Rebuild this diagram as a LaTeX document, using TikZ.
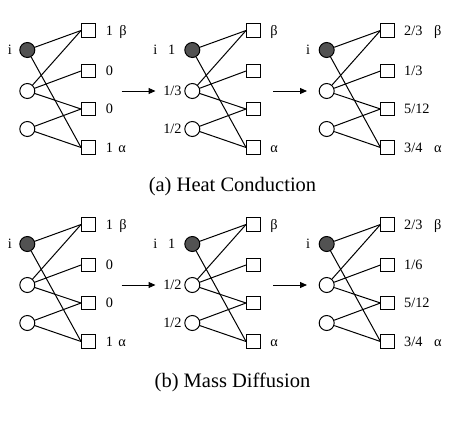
\documentclass[tikz,border=0pt]{standalone}
\usepackage{fontspec}
\setmainfont{Liberation Serif}
\usetikzlibrary{arrows.meta}
\tikzset{
  sq/.style={draw, line width=1pt, minimum size=13.5pt, inner sep=0pt, fill=white},
  hollow/.style={circle, draw, line width=1pt, minimum size=15pt, inner sep=0pt, fill=white},
  full/.style={hollow, fill=black!68},
  link/.style={line width=1pt},
  lab/.style={font=\fontsize{14.3}{16}\selectfont, inner sep=0pt, text height=9.6pt, text depth=0pt},
  captext/.style={font=\fontsize{20.5}{24}\selectfont, inner sep=0pt},
  flow/.style={line width=1pt, -{Triangle[length=7pt,width=6pt]}},
}
% #1 prefix, #2 circle x, #3 top square y
\newcommand\graphpanel[3]{%
  \node[full]   (#1a) at (#2,#3+19.5) {};
  \node[hollow] (#1b) at (#2,#3+60.5) {};
  \node[hollow] (#1c) at (#2,#3+98.5) {};
  \node[sq] (#1s1) at (#2+61,#3) {};
  \node[sq] (#1s2) at (#2+61,#3+40.5) {};
  \node[sq] (#1s3) at (#2+61,#3+78.5) {};
  \node[sq] (#1s4) at (#2+61,#3+117) {};
  \draw[link] (#1a) -- (#1s1.west);
  \draw[link] (#1a) -- (#1s4.west);
  \draw[link] (#1b) -- (#1s1.west);
  \draw[link] (#1b) -- (#1s2.west);
  \draw[link] (#1b) -- (#1s3.west);
  \draw[link] (#1c) -- (#1s3.west);
  \draw[link] (#1c) -- (#1s4.west);
}
\begin{document}
\begin{tikzpicture}[x=1pt, y=-1pt]
\useasboundingbox (0,0) rectangle (463,423);

% ---------- (a) Heat Conduction ----------
\graphpanel{pa}{27.3}{30.5}
\node[lab] (pai) at ([xshift=-17.5pt]paa.center) {i};
\node[lab, anchor=west] (pal1) at ([xshift=10pt]pas1.east) {1};
\node[lab, anchor=west] (palb) at ([xshift=23.5pt]pas1.east) {β};
\node[lab, anchor=west] (pal2) at ([xshift=10pt]pas2.east) {0};
\node[lab, anchor=west] (pal3) at ([xshift=10pt]pas3.east) {0};
\node[lab, anchor=west] (pal4) at ([xshift=10pt]pas4.east) {1};
\node[lab, anchor=west] (pala) at ([xshift=22.5pt]pas4.east) {α};

\graphpanel{pb}{192.3}{30.5}
\node[lab] (pbi) at ([xshift=-37pt]pba.center) {i};
\node[lab] (pbv1) at ([xshift=-20.5pt]pba.center) {1};
\node[lab, anchor=east] (pbv2) at ([xshift=-2.5pt]pbb.west) {1/3};
\node[lab, anchor=east] (pbv3) at ([xshift=-2.5pt]pbc.west) {1/2};
\node[lab, anchor=west] (pblb) at ([xshift=9.5pt]pbs1.east) {β};
\node[lab, anchor=west] (pbla) at ([xshift=9.5pt]pbs4.east) {α};

\graphpanel{pc}{326.7}{30.5}
\node[lab] (pci) at ([xshift=-18.5pt]pca.center) {i};
\node[lab, anchor=west] (pcl1) at ([xshift=9pt]pcs1.east) {2/3};
\node[lab, anchor=west] (pclb) at ([xshift=39pt]pcs1.east) {β};
\node[lab, anchor=west] (pcl2) at ([xshift=9pt]pcs2.east) {1/3};
\node[lab, anchor=west] (pcl3) at ([xshift=9pt]pcs3.east) {5/12};
\node[lab, anchor=west] (pcl4) at ([xshift=9pt]pcs4.east) {3/4};
\node[lab, anchor=west] (pcla) at ([xshift=39pt]pcs4.east) {α};

\coordinate (aa1) at (121.7,91);
\coordinate (aa2) at (155.5,91);
\coordinate (ab1) at (273.3,91);
\coordinate (ab2) at (307,91);
\draw[flow] (aa1) -- (aa2);
\draw[flow] (ab1) -- (ab2);

\node[captext, anchor=base] (capa) at (232.5,191) {(a) Heat Conduction};

% ---------- (b) Mass Diffusion ----------
\graphpanel{qa}{27.3}{224.5}
\node[lab] (qai) at ([xshift=-17.5pt]qaa.center) {i};
\node[lab, anchor=west] (qal1) at ([xshift=10pt]qas1.east) {1};
\node[lab, anchor=west] (qalb) at ([xshift=23.5pt]qas1.east) {β};
\node[lab, anchor=west] (qal2) at ([xshift=10pt]qas2.east) {0};
\node[lab, anchor=west] (qal3) at ([xshift=10pt]qas3.east) {0};
\node[lab, anchor=west] (qal4) at ([xshift=10pt]qas4.east) {1};
\node[lab, anchor=west] (qala) at ([xshift=22.5pt]qas4.east) {α};

\graphpanel{qb}{192.3}{224.5}
\node[lab] (qbi) at ([xshift=-37pt]qba.center) {i};
\node[lab] (qbv1) at ([xshift=-20.5pt]qba.center) {1};
\node[lab, anchor=east] (qbv2) at ([xshift=-2.5pt]qbb.west) {1/2};
\node[lab, anchor=east] (qbv3) at ([xshift=-2.5pt]qbc.west) {1/2};
\node[lab, anchor=west] (qblb) at ([xshift=9.5pt]qbs1.east) {β};
\node[lab, anchor=west] (qbla) at ([xshift=9.5pt]qbs4.east) {α};

\graphpanel{qc}{326.7}{224.5}
\node[lab] (qci) at ([xshift=-18.5pt]qca.center) {i};
\node[lab, anchor=west] (qcl1) at ([xshift=9pt]qcs1.east) {2/3};
\node[lab, anchor=west] (qclb) at ([xshift=39pt]qcs1.east) {β};
\node[lab, anchor=west] (qcl2) at ([xshift=9pt]qcs2.east) {1/6};
\node[lab, anchor=west] (qcl3) at ([xshift=9pt]qcs3.east) {5/12};
\node[lab, anchor=west] (qcl4) at ([xshift=9pt]qcs4.east) {3/4};
\node[lab, anchor=west] (qcla) at ([xshift=39pt]qcs4.east) {α};

\coordinate (ba1) at (121.7,285);
\coordinate (ba2) at (155.5,285);
\coordinate (bb1) at (273.3,285);
\coordinate (bb2) at (307,285);
\draw[flow] (ba1) -- (ba2);
\draw[flow] (bb1) -- (bb2);

\node[captext, anchor=base] (capb) at (232.5,387) {(b) Mass Diffusion};
\end{tikzpicture}
\end{document}
